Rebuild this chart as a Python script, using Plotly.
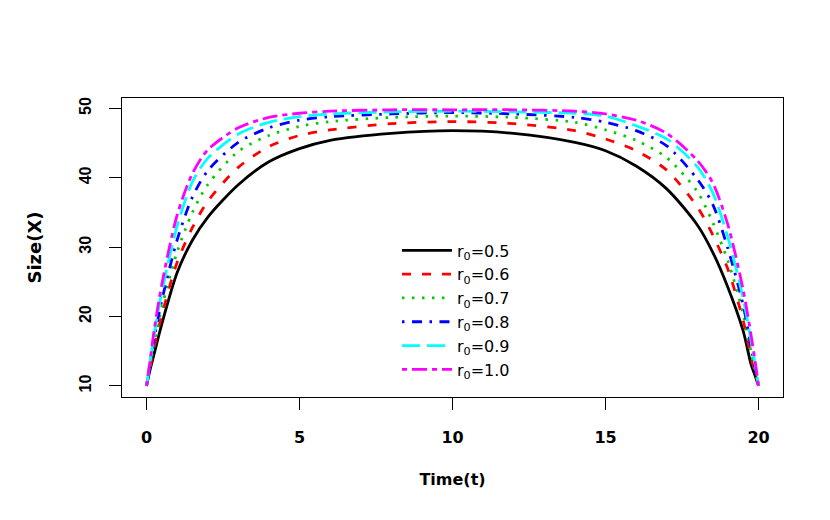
import plotly.graph_objects as go

# Data
time_t = [0, 0.1, 0.25, 0.5, 1, 1.5, 2, 3, 4, 5, 6, 8, 10,
          12, 14, 15, 16, 17, 18, 18.5, 19, 19.5, 19.75, 19.9, 20]

size_r05 = [10, 12.0, 14.6, 18.9, 26.3, 31.0, 34.3, 39.0, 42.3, 44.2, 45.4, 46.4, 46.8,
            46.4, 45.1, 43.9, 41.7, 38.4, 33.2, 29.3, 24.2, 17.9, 13.2, 11.3, 10]
size_r06 = [10, 12.3, 15.5, 20.2, 27.8, 32.8, 36.6, 41.5, 44.5, 46.1, 46.9, 47.8, 48.1,
            47.8, 46.8, 45.6, 43.9, 41.1, 35.8, 31.8, 26.8, 19.4, 14.3, 11.7, 10]
size_r07 = [10, 12.5, 16.2, 21.3, 29.3, 35.0, 39.0, 43.8, 46.1, 47.4, 48.1, 48.7, 48.9,
            48.7, 48.0, 46.9, 45.4, 42.9, 38.0, 33.6, 28.0, 20.4, 15.0, 12.0, 10]
size_r08 = [10, 12.7, 16.8, 22.3, 31.0, 37.2, 41.0, 45.1, 47.2, 48.3, 48.8, 49.2, 49.4,
            49.2, 48.7, 48.0, 46.8, 44.6, 39.8, 36.2, 29.8, 21.6, 15.8, 12.4, 10]
size_r09 = [10, 12.9, 17.4, 23.5, 33.0, 39.4, 42.8, 46.3, 48.0, 48.8, 49.2, 49.5, 49.6,
            49.5, 49.3, 48.9, 47.5, 45.6, 41.6, 37.9, 31.4, 22.6, 16.6, 12.8, 10]
size_r10 = [10, 13.1, 18.0, 24.6, 34.6, 40.6, 44.0, 47.2, 48.7, 49.3, 49.6, 49.8, 49.8,
            49.8, 49.6, 49.2, 48.3, 46.4, 42.5, 39.3, 33.2, 23.8, 17.5, 13.2, 10]

labels = ["r<sub>0</sub>=0.5", "r<sub>0</sub>=0.6", "r<sub>0</sub>=0.7",
          "r<sub>0</sub>=0.8", "r<sub>0</sub>=0.9", "r<sub>0</sub>=1.0"]
series = [size_r05, size_r06, size_r07, size_r08, size_r09, size_r10]
colors = ["black", "#FF0000", "#00CD00", "#0000FF", "#00FFFF", "#FF00FF"]
dashes = ["solid", "9px,11px", "2.5px,7.5px", "2.5px,7.5px,10px,7.5px",
          "18px,7px", "5px,5px,15px,5px"]

fig = go.Figure()

for name, ys, col, dsh in zip(labels, series, colors, dashes):
    fig.add_trace(go.Scatter(
        x=time_t,
        y=ys,
        mode='lines',
        name=name,
        line=dict(color=col, width=2.8, dash=dsh, shape='spline', smoothing=0.8),
    ))

wide_font = "DejaVu Sans, Verdana, sans-serif"
narrow_font = "Liberation Sans, Arial, sans-serif"

# page body adds ~8px offset, so the figure is a bit smaller than the window
fig.update_layout(
    width=822,
    height=512,
    autosize=False,
    plot_bgcolor='white',
    paper_bgcolor='white',
    margin=dict(l=114, r=47, t=90, b=123),
    font=dict(family=wide_font, color='black'),
    legend=dict(
        x=0.416, y=0.547,
        xanchor='left', yanchor='top',
        bgcolor='rgba(0,0,0,0)',
        font=dict(size=16, family=wide_font),
        itemwidth=50,
        tracegroupgap=0,
    ),
)

fig.update_xaxes(
    range=[-0.8, 20.8],
    tickvals=[0, 5, 10, 15, 20],
    ticks='outside', ticklen=12, tickwidth=1, tickcolor='black',
    ticklabelstandoff=14,
    showline=True, linecolor='black', linewidth=1, mirror=True,
    showgrid=False, zeroline=False,
    tickfont=dict(size=16, family=wide_font, weight='bold'),
    title=dict(text="Time(t)", font=dict(size=16, family=wide_font, weight='bold'),
               standoff=27),
)

fig.update_yaxes(
    range=[8.4, 51.5],
    tickvals=[10, 20, 30, 40, 50],
    tickangle=-90,
    ticks='outside', ticklen=12, tickwidth=1, tickcolor='black',
    ticklabelstandoff=12,
    showline=True, linecolor='black', linewidth=1, mirror=True,
    showgrid=False, zeroline=False,
    tickfont=dict(size=16, family=narrow_font, weight='bold'),
    title=dict(text="Size(X)", font=dict(size=18, family=wide_font, weight='bold'),
               standoff=30),
)

fig.write_html("out.html")
